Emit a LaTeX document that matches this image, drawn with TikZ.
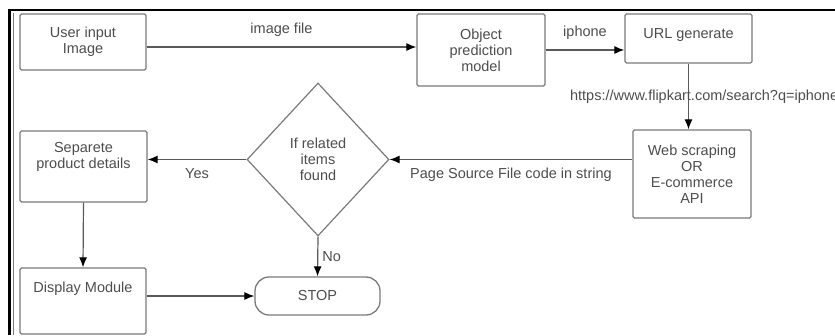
\documentclass[tikz,border=0pt]{standalone}
\usepackage{fontspec}
\setmainfont{Liberation Sans}
\usepackage{tikz}
\tikzset{>=latex}
\usetikzlibrary{shapes.geometric,arrows.meta}
\definecolor{boxline}{HTML}{7A7A7A}
\definecolor{boxtext}{HTML}{4D4D4D}
\tikzset{
  block/.style={draw=boxline, line width=1.3pt, rounded corners=1.5pt, text=boxtext,
    align=center, inner sep=0pt, font=\fontsize{14.5}{16}\selectfont},
  decision/.style={diamond, draw=boxline, line width=1.2pt, text=boxtext, align=center,
    inner sep=0pt, font=\fontsize{14.5}{16}\selectfont},
  flow/.style={-{Latex[black, length=10pt, width=8pt]}, draw=black!65, line width=1.2pt},
  tag/.style={text=boxtext, font=\fontsize{14.5}{16}\selectfont, inner sep=1pt}
}

\begin{document}
\begin{tikzpicture}[x=1pt, y=-1pt]
    \useasboundingbox (0, 0) rectangle (835, 335);
    % frame round the page
    \draw[line width=2.2pt] (9.5, 335) -- (9.5, 10) -- (835, 10);
    \draw[boxline, line width=1.2pt] (13.2, 335) -- (13.2, 12.5);

    \node[block, minimum width=126pt, minimum height=56pt] (input) at (83, 42) {User input\\Image};
    \node[block, minimum width=128pt, minimum height=72pt] (model) at (481, 50) {Object\\prediction\\model};
    \node[block, minimum width=127pt, minimum height=49pt, text depth=9pt] (url) at (688.5, 38.5) {URL generate};
    \node[block, minimum width=118pt, minimum height=88pt] (scrape) at (692, 174) {Web scraping\\OR\\E-commerce\\API};
    \node[decision, minimum width=142pt, minimum height=153pt] (decide) at (318, 159.5) {If related\\items\\found};
    \node[block, minimum width=127pt, minimum height=71pt, text depth=22pt] (sep) at (83.5, 166.5) {Separete\\product details};
    \node[block, minimum width=126pt, minimum height=66pt, text depth=28pt] (display) at (83, 301) {Display Module};
    \node[block, rounded corners=14pt, minimum width=125pt, minimum height=38pt] (stop) at (317.5, 296) {STOP};

    \draw[flow] ([yshift=-5pt]input.east) -- node[tag, above=9pt] {image file} ([yshift=-5pt]input.east -| model.west);
    \draw[flow] (model.east) -- node[tag, above=9pt] {iphone} (model.east -| url.west);
    \draw[flow] (url.south) -- node[tag, anchor=west, xshift=-120pt] {https://www.flipkart.com/search?q=iphone} (url.south |- scrape.north);
    \draw[flow] (scrape.west |- decide.east) -- node[tag, below=7pt] {Page Source File code in string} (decide.east);
    \draw[flow] (decide.west) -- node[tag, below=7pt] {Yes} (decide.west -| sep.east);
    \draw[flow] (sep.south) -- (display.north);
    \draw[flow] (decide.south) -- node[tag, right=3pt] {No} (stop.north);
    \draw[flow] (display.east |- stop.west) -- (stop.west);
\end{tikzpicture}
\end{document}
